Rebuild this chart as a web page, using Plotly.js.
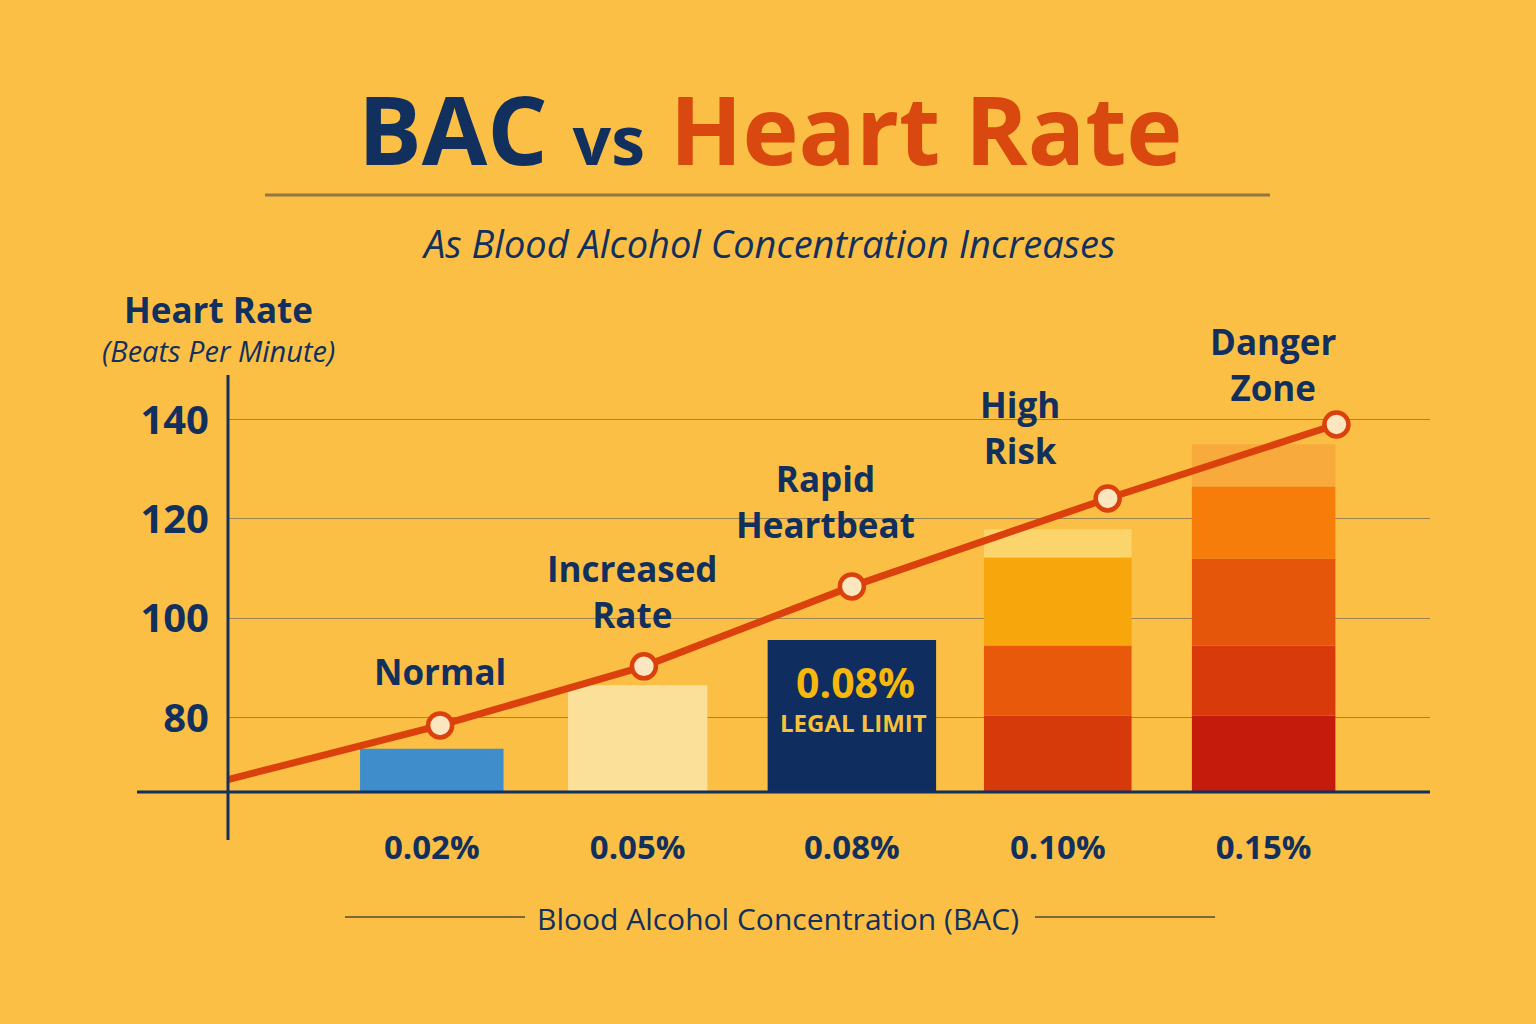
<!DOCTYPE html>
<html><head><meta charset="utf-8">
<script src="https://cdn.plot.ly/plotly-3.0.1.min.js"></script>
<style>html,body{margin:0;padding:0;background:#fbbf45;}#chart{width:1536px;height:1024px;}</style>
</head><body><div id="chart"></div>
<script>
// ---- data ----
const bacLabels = ['0.02%', '0.05%', '0.08%', '0.10%', '0.15%'];
const barPos = [0.98, 1.97, 3.0, 3.99, 4.98];
const barWidth = [0.69, 0.67, 0.81, 0.71, 0.69];
const baseBpm = 65;
const singleBarTop = [73.7, 86.5, 95.6];               // 0.02%, 0.05%, 0.08%
const singleBarColor = ['#3f8ecb', '#fbe09a', '#0f2d5e'];
const seg010Top = [80.4, 94.5, 112.2, 117.9];          // 0.10% stacked segment tops
const seg010Color = ['#d63a0b', '#e8590c', '#f7a60b', '#fcd46c'];
const seg015Top = [80.4, 94.5, 112.0, 126.5, 135.0];   // 0.15% stacked segment tops
const seg015Color = ['#c51b0c', '#d93a0b', '#e5560b', '#f77d0b', '#f8aa3c'];
const lineX = [0, 1.02, 2.0, 3.0, 4.23, 5.33];
const lineBpm = [67.5, 78.4, 90.3, 106.4, 124.1, 139.0];
const stageLabels = ['Normal', 'Increased<br>Rate', 'Rapid<br>Heartbeat', 'High<br>Risk', 'Danger<br>Zone'];
const yTicks = [80, 100, 120, 140];

// ---- layout helpers (pixel -> paper) ----
const L = 228, R = 1430, T = 345, B = 792, W = 1536, H = 1024;
const px = p => (p - L) / (R - L);
const py = p => (B - p) / (B - T);
const NAVY = '#12305e', ORANGE = '#d9480f', FONT = 'Open Sans, Noto Sans, sans-serif';

const traces = [];
traces.push({
  type: 'bar', x: barPos.slice(0, 3), y: singleBarTop.map(v => v - baseBpm), base: baseBpm,
  width: barWidth.slice(0, 3), marker: {color: singleBarColor, line: {width: 0}},
  hoverinfo: 'skip', showlegend: false
});
function addStack(idx, tops, colors) {
  let prev = baseBpm;
  tops.forEach((t, i) => {
    traces.push({type: 'bar', x: [barPos[idx]], y: [t - prev], base: [prev], width: [barWidth[idx]],
      marker: {color: colors[i], line: {width: 0}}, hoverinfo: 'skip', showlegend: false});
    prev = t;
  });
}
addStack(3, seg010Top, seg010Color);
addStack(4, seg015Top, seg015Color);
traces.push({type: 'scatter', mode: 'lines', x: lineX, y: lineBpm,
  line: {color: '#da410c', width: 7}, hoverinfo: 'skip', showlegend: false});
traces.push({type: 'scatter', mode: 'markers', x: lineX.slice(1), y: lineBpm.slice(1),
  marker: {size: 24, color: '#fbe6bf', line: {color: '#da410c', width: 4.5}},
  hoverinfo: 'skip', showlegend: false, cliponaxis: false});

const ann = [];
const T_ = (x, y, text, size, color, extra) => ann.push(Object.assign({
  xref: 'paper', yref: 'paper', x: px(x), y: py(y), text: text, showarrow: false,
  xanchor: 'center', yanchor: 'middle', font: {family: FONT, size: size, color: color}
}, extra || {}));

T_(770, 128, '<b><span style="color:' + NAVY + '">BAC</span> <span style="color:' + NAVY + ';font-size:68px">vs</span> <span style="color:' + ORANGE + '">Heart Rate</span></b>', 95, NAVY);
T_(768, 243, '<i>As Blood Alcohol Concentration Increases</i>', 38, NAVY);
T_(218, 310, '<b>Heart Rate</b>', 35, NAVY);
T_(218, 350, '<i>(Beats Per Minute)</i>', 29, NAVY);
T_(778, 918, 'Blood Alcohol Concentration (BAC)', 30, NAVY);
const stagePx = [[440, 671], [632, 591], [825, 501], [1020, 427], [1273, 364]];
stageLabels.forEach((s, i) => T_(stagePx[i][0], stagePx[i][1], '<b>' + s + '</b>', 35, NAVY, {}));
T_(855, 682, '<b>' + bacLabels[2] + '</b>', 41, '#f6b80d');
T_(853, 722, '<b>LEGAL LIMIT</b>', 24, '#f7c23a');

const shapes = [
  {type: 'line', xref: 'paper', yref: 'paper', x0: px(265), x1: px(1270), y0: py(195), y1: py(195), line: {color: '#6f6040', width: 3}, opacity: 0.75},
  {type: 'line', xref: 'paper', yref: 'paper', x0: px(345), x1: px(525), y0: py(917), y1: py(917), line: {color: '#5e5236', width: 2}, opacity: 0.8},
  {type: 'line', xref: 'paper', yref: 'paper', x0: px(1035), x1: px(1215), y0: py(917), y1: py(917), line: {color: '#5e5236', width: 2}, opacity: 0.8},
  {type: 'line', xref: 'paper', yref: 'paper', x0: px(137), x1: px(1430), y0: 0, y1: 0, line: {color: NAVY, width: 3}, layer: 'above'},
  {type: 'line', xref: 'paper', yref: 'paper', x0: 0, x1: 0, y0: py(840), y1: py(375), line: {color: NAVY, width: 3}, layer: 'above'}
];

const layout = {
  width: W, height: H, paper_bgcolor: '#fbbf45', plot_bgcolor: 'rgba(0,0,0,0)',
  margin: {l: L, r: W - R, t: T, b: H - B, pad: 0},
  barmode: 'overlay', showlegend: false,
  xaxis: {range: [0, 5.78], tickvals: barPos, ticktext: bacLabels, showgrid: false, zeroline: false,
    showline: false, ticks: '', ticklabelstandoff: 33,
    tickfont: {family: FONT, size: 33, color: NAVY, weight: 'bold'}, fixedrange: true},
  yaxis: {range: [65, 155], tickvals: yTicks, showgrid: true, gridcolor: '#9c8550', gridwidth: 1,
    zeroline: false, showline: false, ticks: '', ticklabelstandoff: 18,
    tickfont: {family: FONT, size: 40, color: NAVY, weight: 'bold'}, fixedrange: true},
  annotations: ann, shapes: shapes
};
Plotly.newPlot('chart', traces, layout, {displayModeBar: false, staticPlot: true});
</script></body></html>
